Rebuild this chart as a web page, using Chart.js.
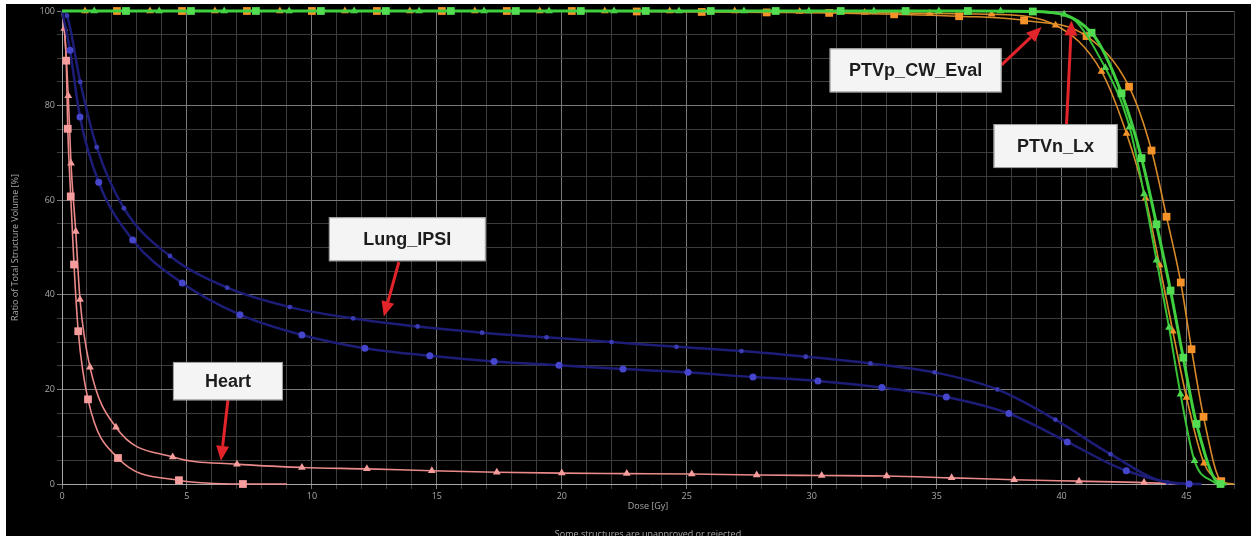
<!DOCTYPE html>
<html>
<head>
<meta charset="utf-8">
<title>DVH</title>
<script src="https://cdn.jsdelivr.net/npm/chart.js@4.4.1/dist/chart.umd.min.js"></script>
<style>
  html, body { margin: 0; padding: 0; background: #fff; }
  canvas { display: block; }
</style>
</head>
<body>
<canvas id="dvh" width="1253" height="536"></canvas>
<script>
// dose in Gy, volume in %
const heartSqX = [0, 0.17, 0.23, 0.35, 0.48, 0.65, 1.04, 2.24, 4.68, 7.24, 9.0];
const heartSqY = [100, 89.5, 75.1, 60.8, 46.4, 32.3, 17.9, 5.5, 0.8, 0, 0];

const heartTriX = [0, 0.09, 0.25, 0.36, 0.55, 0.72, 1.12, 2.16, 4.43, 7.0, 9.6, 12.2, 14.8, 17.4, 20.0, 22.6, 25.2, 27.8, 30.4, 33.0, 35.6, 38.1, 40.7, 43.3, 44.6];
const heartTriY = [100, 96.3, 82.1, 67.8, 53.4, 39.0, 24.7, 12.0, 5.7, 4.2, 3.5, 3.2, 2.8, 2.5, 2.3, 2.2, 2.1, 1.9, 1.8, 1.7, 1.3, 0.9, 0.6, 0.3, 0];

const lungSmallX = [0, 0.2, 0.73, 1.39, 2.48, 4.32, 6.61, 9.12, 11.65, 14.23, 16.81, 19.39, 21.99, 24.59, 27.19, 29.76, 32.35, 34.92, 37.43, 39.75, 41.96, 44.25, 45.3];
const lungSmallY = [100, 99, 85.0, 71.2, 58.3, 48.2, 41.5, 37.4, 35.0, 33.3, 32.0, 31.0, 30.0, 29.0, 28.1, 26.9, 25.5, 23.6, 20.0, 13.6, 6.3, 0.3, 0];

const lungBigX = [0, 0.32, 0.72, 1.47, 2.83, 4.81, 7.12, 9.6, 12.12, 14.72, 17.29, 19.89, 22.45, 25.05, 27.65, 30.25, 32.81, 35.39, 37.89, 40.23, 42.59, 45.1, 45.6];
const lungBigY = [100, 91.7, 77.6, 63.8, 51.6, 42.5, 35.8, 31.5, 28.7, 27.1, 25.9, 25.1, 24.3, 23.6, 22.6, 21.8, 20.4, 18.4, 14.9, 8.9, 2.8, 0, 0];

const orTriX = [0, 0.92, 3.52, 6.12, 8.72, 11.32, 13.92, 16.52, 19.12, 21.72, 24.32, 26.92, 29.52, 32.12, 34.72, 37.2, 39.76, 41.6, 42.6, 43.36, 43.92, 44.45, 45.0, 45.7, 46.5];
const orTriY = [100, 100, 100, 100, 100, 100, 100, 100, 100, 100, 100, 100, 99.9, 99.7, 99.5, 99.3, 97.0, 87.2, 74.1, 60.4, 46.3, 32.3, 18.3, 4.4, 0];

const orSqX = [0, 2.2, 4.8, 7.4, 10.0, 12.6, 15.2, 17.8, 20.4, 23.0, 25.6, 28.2, 30.7, 33.3, 35.9, 38.5, 41.0, 42.7, 43.6, 44.2, 44.77, 45.2, 45.68, 46.39, 46.9];
const orSqY = [100, 100, 100, 100, 100, 100, 100, 100, 100, 99.9, 99.8, 99.7, 99.6, 99.3, 98.9, 98.0, 94.7, 84.0, 70.5, 56.5, 42.6, 28.5, 14.2, 0.6, 0];

const grSqX = [0, 2.56, 5.16, 7.76, 10.36, 12.96, 15.56, 18.16, 20.76, 23.36, 25.96, 28.56, 31.16, 33.76, 36.25, 38.85, 41.2, 42.4, 43.2, 43.8, 44.36, 44.87, 45.4, 46.36, 46.6];
const grSqY = [100, 100, 100, 100, 100, 100, 100, 100, 100, 100, 100, 100, 100, 100, 100, 99.9, 95.4, 82.6, 68.9, 54.9, 40.9, 26.7, 12.7, 0, 0];

const grTriX = [0, 1.29, 3.89, 6.49, 9.09, 11.69, 14.29, 16.89, 19.49, 22.09, 24.69, 27.29, 29.89, 32.49, 35.09, 37.56, 40.1, 41.75, 42.72, 43.3, 43.8, 44.3, 44.76, 45.32, 46.2];
const grTriY = [100, 100, 100, 100, 100, 100, 100, 100, 100, 100, 100, 100, 100, 100, 100, 100, 99.3, 88.0, 75.5, 61.3, 47.3, 33.1, 19.0, 4.9, 0];

const xTickLabels = [0, 5, 10, 15, 20, 25, 30, 35, 40, 45];
const yTickLabels = [0, 20, 40, 60, 80, 100];

// callout boxes, in data units: box x1,x2,y1,y2 then arrow tail -> tip
const callouts = [
  { text: "Heart", box: [4.44, 8.84, 25.8, 17.7], tail: [6.64, 17.7], tip: [6.36, 4.9] },
  { text: "Lung_IPSI", box: [10.68, 16.96, 56.4, 47.1], tail: [13.48, 46.9], tip: [12.88, 35.4] },
  { text: "PTVp_CW_Eval", box: [30.72, 37.6, 92.1, 82.8], tail: [37.6, 88.6], tip: [39.2, 96.6] },
  { text: "PTVn_Lx", box: [37.28, 42.24, 76.1, 66.8], tail: [40.2, 76.1], tip: [40.4, 98.0] },
];

function series(xs, ys, opts) {
  return {
    data: xs.map((x, i) => ({ x: x, y: ys[i] })),
    borderColor: opts.line,
    backgroundColor: opts.mark,
    pointBackgroundColor: opts.mark,
    pointBorderColor: opts.mark,
    pointBorderWidth: 0,
    pointStyle: opts.style,
    pointRadius: (c) => (c.dataIndex === 0 || c.dataIndex === c.dataset.data.length - 1) ? 0 : opts.r,
    borderWidth: opts.width,
    cubicInterpolationMode: "monotone",
    clip: 10,
  };
}

function drawArrow(ctx, x1, y1, x2, y2) {
  const ang = Math.atan2(y2 - y1, x2 - x1);
  const len = 15, half = 6.5;
  const bx = x2 - Math.cos(ang) * len, by = y2 - Math.sin(ang) * len;
  ctx.strokeStyle = "#e3242b";
  ctx.fillStyle = "#e3242b";
  ctx.lineWidth = 3;
  ctx.beginPath();
  ctx.moveTo(x1, y1);
  ctx.lineTo(bx, by);
  ctx.stroke();
  ctx.beginPath();
  ctx.moveTo(x2, y2);
  ctx.lineTo(bx + Math.sin(ang) * half, by - Math.cos(ang) * half);
  ctx.lineTo(bx - Math.sin(ang) * half, by + Math.cos(ang) * half);
  ctx.closePath();
  ctx.fill();
}

const frame = {
  id: "frame",
  beforeDraw(chart) {
    const ctx = chart.ctx;
    ctx.save();
    ctx.fillStyle = "#ffffff";
    ctx.fillRect(0, 0, chart.width, chart.height);
    ctx.fillStyle = "#000000";
    ctx.fillRect(6, 4, 1245, 532);
    ctx.restore();
  },
  afterDraw(chart) {
    const ctx = chart.ctx;
    const xs = chart.scales.x, ys = chart.scales.y;
    const area = chart.chartArea;
    ctx.save();
    ctx.fillStyle = "#a8a8a8";
    ctx.font = "9px 'Open Sans'";
    ctx.textAlign = "center";
    ctx.textBaseline = "middle";
    ctx.fillText("Dose [Gy]", (area.left + area.right) / 2, 506);
    ctx.fillText("Some structures are unapproved or rejected", (area.left + area.right) / 2, 534);
    ctx.save();
    ctx.translate(15, (area.top + area.bottom) / 2);
    ctx.rotate(-Math.PI / 2);
    ctx.fillText("Ratio of Total Structure Volume [%]", 0, 0);
    ctx.restore();

    callouts.forEach((c) => {
      const l = xs.getPixelForValue(c.box[0]), r = xs.getPixelForValue(c.box[1]);
      const t = ys.getPixelForValue(c.box[2]), b = ys.getPixelForValue(c.box[3]);
      drawArrow(ctx, xs.getPixelForValue(c.tail[0]), ys.getPixelForValue(c.tail[1]),
        xs.getPixelForValue(c.tip[0]), ys.getPixelForValue(c.tip[1]));
      ctx.fillStyle = "#f4f4f4";
      ctx.fillRect(l, t, r - l, b - t);
      ctx.strokeStyle = "#9a9a9a";
      ctx.lineWidth = 1;
      ctx.strokeRect(l + 0.5, t + 0.5, r - l - 1, b - t - 1);
      ctx.fillStyle = "#1c1c1c";
      ctx.font = "bold 18px 'Liberation Sans'";
      ctx.textAlign = "center";
      ctx.textBaseline = "middle";
      ctx.fillText(c.text, (l + r) / 2, (t + b) / 2 + 1);
    });
    ctx.restore();
  },
};

const ctx = document.getElementById("dvh").getContext("2d");
new Chart(ctx, {
  type: "line",
  data: {
    datasets: [
      series(grSqX, grSqY, { line: "#3fcf3f", mark: "#52dd52", style: "rect", r: 5.5, width: 3 }),
      series(grTriX, grTriY, { line: "#38c238", mark: "#4fd64f", style: "triangle", r: 4.5, width: 2 }),
      series(orSqX, orSqY, { line: "#d98a28", mark: "#f5932a", style: "rect", r: 5.5, width: 1.6 }),
      series(orTriX, orTriY, { line: "#d98a28", mark: "#f5932a", style: "triangle", r: 4.5, width: 1.6 }),
      series(lungBigX, lungBigY, { line: "#1d1d78", mark: "#4646cc", style: "circle", r: 3.5, width: 2.5 }),
      series(lungSmallX, lungSmallY, { line: "#1d1d78", mark: "#3c3cb4", style: "circle", r: 2.4, width: 2.5 }),
      series(heartSqX, heartSqY, { line: "#ec8a8a", mark: "#f59c9c", style: "rect", r: 5.5, width: 1.6 }),
      series(heartTriX, heartTriY, { line: "#ec8a8a", mark: "#f59c9c", style: "triangle", r: 4.5, width: 1.6 }),
    ],
  },
  options: {
    responsive: false,
    devicePixelRatio: 1,
    animation: false,
    layout: { padding: { top: 11, right: 19, left: 0, bottom: 0 } },
    plugins: {
      legend: { display: false },
      tooltip: { enabled: false },
    },
    scales: {
      x: {
        type: "linear",
        min: 0,
        max: 46.9,
        afterFit: (scale) => { scale.height = 52; },
        border: { color: "#a8a8a8", width: 1 },
        grid: {
          color: (c) => xTickLabels.includes(c.tick.value) ? "#7a7a7a" : "#3c3c3c",
          tickLength: 5,
        },
        ticks: {
          stepSize: 1,
          autoSkip: false,
          maxRotation: 0,
          padding: 2,
          color: "#a8a8a8",
          font: { size: 9, family: "'Open Sans'" },
          callback: (v) => xTickLabels.includes(v) ? v : "",
        },
      },
      y: {
        min: 0,
        max: 100,
        afterFit: (scale) => { scale.width = 62; },
        border: { color: "#a8a8a8", width: 1 },
        grid: {
          color: (c) => yTickLabels.includes(c.tick.value) ? "#7a7a7a" : "#3c3c3c",
          tickLength: 5,
        },
        ticks: {
          stepSize: 5,
          autoSkip: false,
          padding: 2,
          color: "#a8a8a8",
          font: { size: 9, family: "'Open Sans'" },
          callback: (v) => yTickLabels.includes(v) ? v : "",
        },
      },
    },
  },
  plugins: [frame],
});
</script>
</body>
</html>
